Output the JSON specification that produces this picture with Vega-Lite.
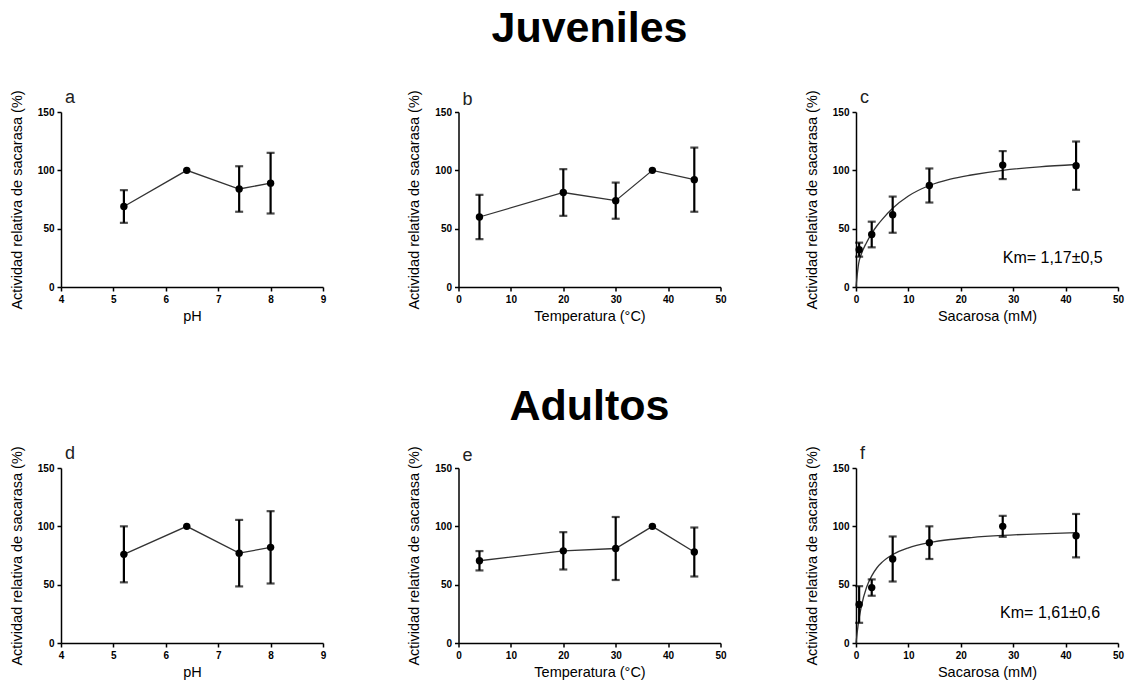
{
  "$schema": "https://vega.github.io/schema/vega-lite/v6.json",
  "autosize": {"type": "none"},
  "padding": {"left": 61, "top": 112, "right": 1065, "bottom": 571},
  "background": "white",
  "bounds": "flush",
  "columns": 3,
  "spacing": {"column": 135.5, "row": 181},
  "datasets": {
    "ph_j": [
      {"x": 5.2, "y": 69, "err": 14},
      {"x": 6.4, "y": 100, "err": 0},
      {"x": 7.4, "y": 84, "err": 19.5},
      {"x": 8.0, "y": 89, "err": 26}
    ],
    "temp_j": [
      {"x": 4, "y": 60, "err": 19},
      {"x": 20, "y": 81, "err": 20},
      {"x": 30, "y": 74, "err": 15.5},
      {"x": 37, "y": 100, "err": 0},
      {"x": 45, "y": 92, "err": 27.5}
    ],
    "sac_j": [
      {"x": 0.6, "y": 32, "err": 6},
      {"x": 3, "y": 45, "err": 11},
      {"x": 7, "y": 62, "err": 15.5},
      {"x": 14, "y": 87, "err": 14.6},
      {"x": 28, "y": 104.5, "err": 12},
      {"x": 42, "y": 104, "err": 20.7}
    ],
    "fit_j": [
      {"x": 0, "y": 0}, {"x": 0.5, "y": 20}, {"x": 1, "y": 28}, {"x": 2, "y": 38},
      {"x": 3, "y": 46}, {"x": 4, "y": 52.5}, {"x": 5, "y": 58}, {"x": 7, "y": 67.5},
      {"x": 10, "y": 78}, {"x": 14, "y": 87}, {"x": 18, "y": 92.5}, {"x": 22, "y": 96},
      {"x": 28, "y": 100}, {"x": 35, "y": 103}, {"x": 42, "y": 105}
    ],
    "ph_a": [
      {"x": 5.2, "y": 76, "err": 24},
      {"x": 6.4, "y": 100, "err": 0},
      {"x": 7.4, "y": 77, "err": 28.5},
      {"x": 8.0, "y": 82, "err": 31}
    ],
    "temp_a": [
      {"x": 4, "y": 70.5, "err": 8.3},
      {"x": 20, "y": 79, "err": 16},
      {"x": 30, "y": 81, "err": 27},
      {"x": 37, "y": 100, "err": 0},
      {"x": 45, "y": 78, "err": 21}
    ],
    "sac_a": [
      {"x": 0.6, "y": 33, "err": 15.7},
      {"x": 3, "y": 47.5, "err": 7},
      {"x": 7, "y": 72, "err": 19.3},
      {"x": 14, "y": 86, "err": 14},
      {"x": 28, "y": 100, "err": 9},
      {"x": 42, "y": 92, "err": 18.6}
    ],
    "fit_a": [
      {"x": 0, "y": 0}, {"x": 0.5, "y": 18.5}, {"x": 1, "y": 31}, {"x": 2, "y": 47.5},
      {"x": 3, "y": 57.5}, {"x": 4, "y": 64.5}, {"x": 5, "y": 69.3}, {"x": 7, "y": 75.8},
      {"x": 10, "y": 81.6}, {"x": 14, "y": 86}, {"x": 18, "y": 88.7}, {"x": 22, "y": 90.4},
      {"x": 28, "y": 92.2}, {"x": 35, "y": 93.6}, {"x": 42, "y": 94.5}
    ]
  },
  "concat": [
    {
      "width": 262, "height": 175,
      "title": {"text": "a", "anchor": "start", "frame": "group", "fontSize": 18, "fontWeight": "normal", "color": "#222", "dx": 4, "offset": -17},
      "data": {"name": "ph_j"},
      "encoding": {
        "x": {"field": "x", "type": "quantitative", "scale": {"domain": [4, 9], "nice": false}, "axis": {"values": [4, 5, 6, 7, 8, 9], "title": "pH"}},
        "y": {"field": "y", "type": "quantitative", "scale": {"domain": [0, 150], "nice": false}, "axis": {"values": [0, 50, 100, 150], "title": "Actividad relativa de sacarasa (%)"}}
      },
      "layer": [
        {"mark": {"type": "line", "color": "#333", "strokeWidth": 1.3}},
        {"transform": [{"filter": "datum.err > 0"}], "mark": {"type": "errorbar", "color": "black", "thickness": 2.2, "ticks": {"size": 8}}, "encoding": {"yError": {"field": "err"}}},
        {"mark": {"type": "point", "filled": true, "color": "black", "size": 55, "opacity": 1}}
      ]
    },
    {
      "width": 262, "height": 175,
      "title": {"text": "Juveniles", "fontSize": 43, "fontWeight": "bold", "anchor": "middle", "frame": "group", "baseline": "alphabetic", "offset": 5, "color": "black"},
      "data": {"name": "temp_j"},
      "encoding": {
        "x": {"field": "x", "type": "quantitative", "scale": {"domain": [0, 50], "nice": false}, "axis": {"values": [0, 10, 20, 30, 40, 50], "title": "Temperatura (°C)"}},
        "y": {"field": "y", "type": "quantitative", "scale": {"domain": [0, 150], "nice": false}, "axis": {"values": [0, 50, 100, 150], "title": "Actividad relativa de sacarasa (%)"}}
      },
      "layer": [
        {"mark": {"type": "line", "color": "#333", "strokeWidth": 1.3}},
        {"transform": [{"filter": "datum.err > 0"}], "mark": {"type": "errorbar", "color": "black", "thickness": 2.2, "ticks": {"size": 8}}, "encoding": {"yError": {"field": "err"}}},
        {"mark": {"type": "point", "filled": true, "color": "black", "size": 55, "opacity": 1}},
        {"data": {"values": [{"x": 0, "y": 150, "t": "b"}]}, "mark": {"type": "text", "align": "left", "baseline": "alphabetic", "dx": 4, "dy": -7, "fontSize": 18, "color": "#222"}, "encoding": {"text": {"field": "t"}}}
      ]
    },
    {
      "width": 262, "height": 175,
      "title": {"text": "c", "anchor": "start", "frame": "group", "fontSize": 18, "fontWeight": "normal", "color": "#222", "dx": 4, "offset": -17},
      "encoding": {
        "x": {"field": "x", "type": "quantitative", "scale": {"domain": [0, 50], "nice": false}, "axis": {"values": [0, 10, 20, 30, 40, 50], "title": "Sacarosa (mM)"}},
        "y": {"field": "y", "type": "quantitative", "scale": {"domain": [0, 150], "nice": false}, "axis": {"values": [0, 50, 100, 150], "title": "Actividad relativa de sacarasa (%)"}}
      },
      "layer": [
        {"data": {"name": "fit_j"}, "mark": {"type": "line", "color": "#333", "strokeWidth": 1.3, "interpolate": "monotone"}},
        {"data": {"name": "sac_j"}, "mark": {"type": "errorbar", "color": "black", "thickness": 2.2, "ticks": {"size": 8}}, "encoding": {"yError": {"field": "err"}}},
        {"data": {"name": "sac_j"}, "mark": {"type": "point", "filled": true, "color": "black", "size": 55, "opacity": 1}},
        {"data": {"values": [{"x": 28, "y": 25, "t": "Km= 1,17±0,5"}]}, "mark": {"type": "text", "align": "left", "baseline": "middle", "fontSize": 16, "color": "black"}, "encoding": {"text": {"field": "t"}}}
      ]
    },
    {
      "width": 262, "height": 175,
      "title": {"text": "d", "anchor": "start", "frame": "group", "fontSize": 18, "fontWeight": "normal", "color": "#222", "dx": 4, "offset": -17},
      "data": {"name": "ph_a"},
      "encoding": {
        "x": {"field": "x", "type": "quantitative", "scale": {"domain": [4, 9], "nice": false}, "axis": {"values": [4, 5, 6, 7, 8, 9], "title": "pH"}},
        "y": {"field": "y", "type": "quantitative", "scale": {"domain": [0, 150], "nice": false}, "axis": {"values": [0, 50, 100, 150], "title": "Actividad relativa de sacarasa (%)"}}
      },
      "layer": [
        {"mark": {"type": "line", "color": "#333", "strokeWidth": 1.3}},
        {"transform": [{"filter": "datum.err > 0"}], "mark": {"type": "errorbar", "color": "black", "thickness": 2.2, "ticks": {"size": 8}}, "encoding": {"yError": {"field": "err"}}},
        {"mark": {"type": "point", "filled": true, "color": "black", "size": 55, "opacity": 1}}
      ]
    },
    {
      "width": 262, "height": 175,
      "title": {"text": "Adultos", "fontSize": 43, "fontWeight": "bold", "anchor": "middle", "frame": "group", "baseline": "alphabetic", "offset": -17, "color": "black"},
      "data": {"name": "temp_a"},
      "encoding": {
        "x": {"field": "x", "type": "quantitative", "scale": {"domain": [0, 50], "nice": false}, "axis": {"values": [0, 10, 20, 30, 40, 50], "title": "Temperatura (°C)"}},
        "y": {"field": "y", "type": "quantitative", "scale": {"domain": [0, 150], "nice": false}, "axis": {"values": [0, 50, 100, 150], "title": "Actividad relativa de sacarasa (%)"}}
      },
      "layer": [
        {"mark": {"type": "line", "color": "#333", "strokeWidth": 1.3}},
        {"transform": [{"filter": "datum.err > 0"}], "mark": {"type": "errorbar", "color": "black", "thickness": 2.2, "ticks": {"size": 8}}, "encoding": {"yError": {"field": "err"}}},
        {"mark": {"type": "point", "filled": true, "color": "black", "size": 55, "opacity": 1}},
        {"data": {"values": [{"x": 0, "y": 150, "t": "e"}]}, "mark": {"type": "text", "align": "left", "baseline": "alphabetic", "dx": 4, "dy": -7, "fontSize": 18, "color": "#222"}, "encoding": {"text": {"field": "t"}}}
      ]
    },
    {
      "width": 262, "height": 175,
      "title": {"text": "f", "anchor": "start", "frame": "group", "fontSize": 18, "fontWeight": "normal", "color": "#222", "dx": 4, "offset": -17},
      "encoding": {
        "x": {"field": "x", "type": "quantitative", "scale": {"domain": [0, 50], "nice": false}, "axis": {"values": [0, 10, 20, 30, 40, 50], "title": "Sacarosa (mM)"}},
        "y": {"field": "y", "type": "quantitative", "scale": {"domain": [0, 150], "nice": false}, "axis": {"values": [0, 50, 100, 150], "title": "Actividad relativa de sacarasa (%)"}}
      },
      "layer": [
        {"data": {"name": "fit_a"}, "mark": {"type": "line", "color": "#333", "strokeWidth": 1.3, "interpolate": "monotone"}},
        {"data": {"name": "sac_a"}, "mark": {"type": "errorbar", "color": "black", "thickness": 2.2, "ticks": {"size": 8}}, "encoding": {"yError": {"field": "err"}}},
        {"data": {"name": "sac_a"}, "mark": {"type": "point", "filled": true, "color": "black", "size": 55, "opacity": 1}},
        {"data": {"values": [{"x": 27.5, "y": 26, "t": "Km= 1,61±0,6"}]}, "mark": {"type": "text", "align": "left", "baseline": "middle", "fontSize": 16, "color": "black"}, "encoding": {"text": {"field": "t"}}}
      ]
    }
  ],
  "config": {
    "font": "Liberation Sans",
    "view": {"stroke": null},
    "axis": {
      "grid": false,
      "domainColor": "black",
      "domainWidth": 1.5,
      "tickColor": "black",
      "tickWidth": 1.5,
      "tickSize": 4,
      "labelFont": "Liberation Sans",
      "labelFontSize": 10,
      "labelFontWeight": "bold",
      "labelColor": "black",
      "labelPadding": 3,
      "labelFlush": false,
      "titleFont": "Liberation Sans",
      "titleFontSize": 14.5,
      "titleFontWeight": "normal",
      "titleColor": "black"
    },
    "axisX": {"titlePadding": 5},
    "axisY": {"titlePadding": 13},
    "title": {"font": "Liberation Sans"}
  }
}
